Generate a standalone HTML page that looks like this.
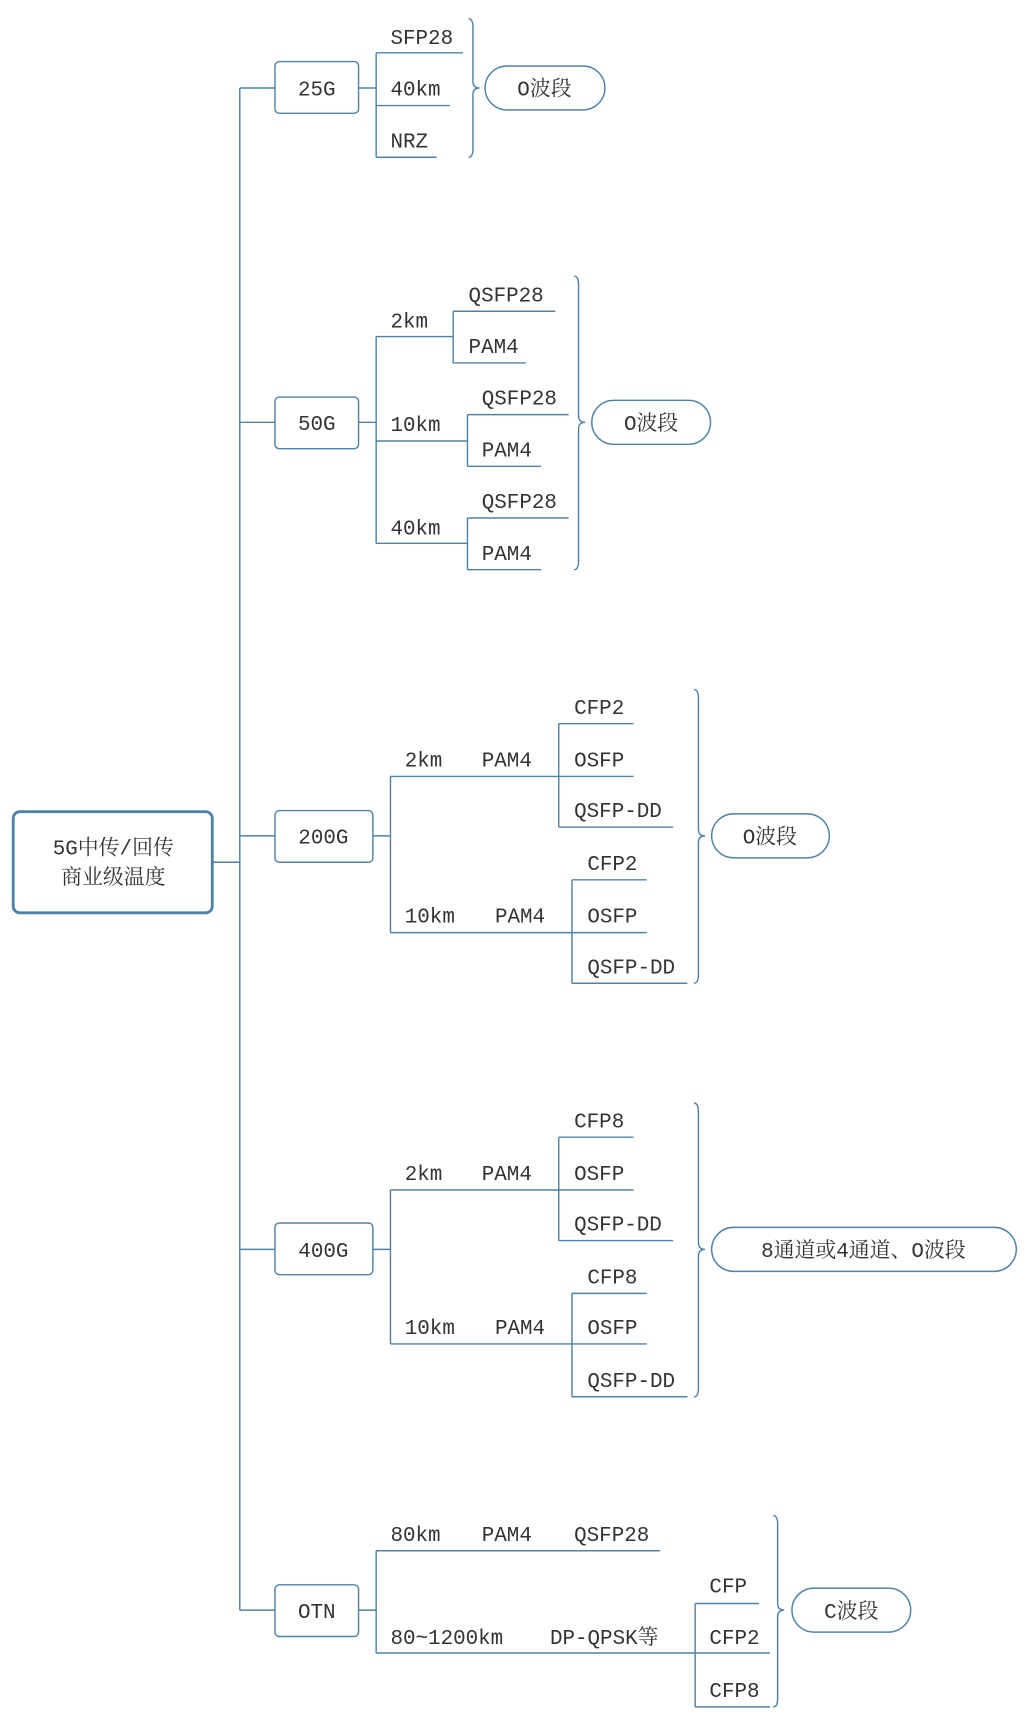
<!DOCTYPE html>
<html><head><meta charset="utf-8"><style>
html,body{margin:0;padding:0;background:#fff;}
svg{display:block;}
text{font-family:"Liberation Mono","Noto Serif CJK SC","Noto Sans CJK SC",monospace;font-size:19px;fill:#333;}
</style></head><body>
<svg width="1024" height="1719" viewBox="0 0 931 1563" preserveAspectRatio="none" xmlns="http://www.w3.org/2000/svg">
<g fill="none" stroke="#4f82a8" stroke-width="1.3">
<!-- trunk -->
<line x1="193" y1="784" x2="218" y2="784"/>
<line x1="218" y1="80" x2="218" y2="1464"/>
<line x1="218" y1="80" x2="250" y2="80"/>
<line x1="218" y1="384" x2="250" y2="384"/>
<line x1="218" y1="760" x2="250" y2="760"/>
<line x1="218" y1="1136" x2="250" y2="1136"/>
<line x1="218" y1="1464" x2="250" y2="1464"/>
<!-- boxes -->
<rect x="250" y="56" width="76" height="47" rx="4"/>
<rect x="250" y="361" width="76" height="47" rx="4"/>
<rect x="250" y="737" width="89" height="47" rx="4"/>
<rect x="250" y="1112" width="89" height="47" rx="4"/>
<rect x="250" y="1441" width="76" height="47" rx="4"/>
<!-- 25G -->
<line x1="326" y1="80" x2="342" y2="80"/>
<line x1="342" y1="48" x2="342" y2="143"/>
<line x1="342" y1="48" x2="421" y2="48"/>
<line x1="342" y1="96" x2="409" y2="96"/>
<line x1="342" y1="143" x2="397" y2="143"/>
<!-- 50G -->
<line x1="326" y1="384" x2="342" y2="384"/>
<line x1="342" y1="306" x2="342" y2="494"/>
<line x1="342" y1="306" x2="412" y2="306"/>
<line x1="342" y1="401" x2="425" y2="401"/>
<line x1="342" y1="494" x2="425" y2="494"/>
<line x1="412" y1="283" x2="412" y2="330"/>
<line x1="412" y1="283" x2="505" y2="283"/>
<line x1="412" y1="330" x2="478" y2="330"/>
<line x1="425" y1="377" x2="425" y2="424"/>
<line x1="425" y1="377" x2="517" y2="377"/>
<line x1="425" y1="424" x2="492" y2="424"/>
<line x1="425" y1="471" x2="425" y2="518"/>
<line x1="425" y1="471" x2="517" y2="471"/>
<line x1="425" y1="518" x2="492" y2="518"/>
<!-- 200G -->
<line x1="339" y1="760" x2="355" y2="760"/>
<line x1="355" y1="706" x2="355" y2="848"/>
<line x1="355" y1="706" x2="576" y2="706"/>
<line x1="355" y1="848" x2="588" y2="848"/>
<line x1="508" y1="658" x2="508" y2="752"/>
<line x1="508" y1="658" x2="576" y2="658"/>
<line x1="508" y1="752" x2="612" y2="752"/>
<line x1="520" y1="800" x2="520" y2="894"/>
<line x1="520" y1="800" x2="588" y2="800"/>
<line x1="520" y1="894" x2="625" y2="894"/>
<!-- 400G -->
<line x1="339" y1="1136" x2="355" y2="1136"/>
<line x1="355" y1="1082" x2="355" y2="1222"/>
<line x1="355" y1="1082" x2="576" y2="1082"/>
<line x1="355" y1="1222" x2="588" y2="1222"/>
<line x1="508" y1="1034" x2="508" y2="1128"/>
<line x1="508" y1="1034" x2="576" y2="1034"/>
<line x1="508" y1="1128" x2="612" y2="1128"/>
<line x1="520" y1="1176" x2="520" y2="1270"/>
<line x1="520" y1="1176" x2="588" y2="1176"/>
<line x1="520" y1="1270" x2="625" y2="1270"/>
<!-- OTN -->
<line x1="326" y1="1464" x2="342" y2="1464"/>
<line x1="342" y1="1410" x2="342" y2="1503"/>
<line x1="342" y1="1410" x2="600" y2="1410"/>
<line x1="342" y1="1503" x2="700" y2="1503"/>
<line x1="632" y1="1458" x2="632" y2="1552"/>
<line x1="632" y1="1458" x2="690" y2="1458"/>
<line x1="632" y1="1552" x2="700" y2="1552"/>
<!-- braces -->
<path d="M426 17 Q430 17 430 25 L430 74 Q430 80 436 80 Q430 80 430 86 L430 135 Q430 143 426 143"/>
<path d="M522 251 Q526 251 526 259 L526 378 Q526 384 532 384 Q526 384 526 390 L526 510 Q526 518 522 518"/>
<path d="M631 627 Q635 627 635 635 L635 754 Q635 760 641 760 Q635 760 635 766 L635 886 Q635 894 631 894"/>
<path d="M631 1003 Q635 1003 635 1011 L635 1130 Q635 1136 641 1136 Q635 1136 635 1142 L635 1262 Q635 1270 631 1270"/>
<path d="M703 1378 Q707 1378 707 1386 L707 1458 Q707 1464 713 1464 Q707 1464 707 1470 L707 1544 Q707 1552 703 1552"/>
<!-- pills -->
<rect x="441" y="60" width="109" height="40" rx="20"/>
<rect x="538" y="364" width="108" height="40" rx="20"/>
<rect x="647" y="740" width="107" height="40" rx="20"/>
<rect x="647" y="1116" width="277" height="40" rx="20"/>
<rect x="720" y="1444" width="108" height="40" rx="20"/>
<!-- root -->
<rect x="12" y="738" width="181" height="92" rx="6" stroke-width="2.6"/>
</g>
<g>
<text x="103" y="777" text-anchor="middle">5G中传/回传</text>
<text x="103" y="804" text-anchor="middle">商业级温度</text>
<text x="288" y="87" text-anchor="middle">25G</text>
<text x="288" y="391" text-anchor="middle">50G</text>
<text x="294" y="767" text-anchor="middle">200G</text>
<text x="294" y="1143" text-anchor="middle">400G</text>
<text x="288" y="1471" text-anchor="middle">OTN</text>

<text x="355" y="40">SFP28</text>
<text x="355" y="87">40km</text>
<text x="355" y="134">NRZ</text>
<text x="495" y="87" text-anchor="middle">O波段</text>

<text x="355" y="298">2km</text>
<text x="426" y="274">QSFP28</text>
<text x="426" y="321">PAM4</text>
<text x="355" y="392">10km</text>
<text x="438" y="368">QSFP28</text>
<text x="438" y="415">PAM4</text>
<text x="355" y="486">40km</text>
<text x="438" y="462">QSFP28</text>
<text x="438" y="509">PAM4</text>
<text x="592" y="391" text-anchor="middle">O波段</text>

<text x="368" y="697">2km</text>
<text x="438" y="697">PAM4</text>
<text x="522" y="649">CFP2</text>
<text x="522" y="697">OSFP</text>
<text x="522" y="743">QSFP-DD</text>
<text x="368" y="839">10km</text>
<text x="450" y="839">PAM4</text>
<text x="534" y="791">CFP2</text>
<text x="534" y="839">OSFP</text>
<text x="534" y="885">QSFP-DD</text>
<text x="700" y="767" text-anchor="middle">O波段</text>

<text x="368" y="1073">2km</text>
<text x="438" y="1073">PAM4</text>
<text x="522" y="1025">CFP8</text>
<text x="522" y="1073">OSFP</text>
<text x="522" y="1119">QSFP-DD</text>
<text x="368" y="1213">10km</text>
<text x="450" y="1213">PAM4</text>
<text x="534" y="1167">CFP8</text>
<text x="534" y="1213">OSFP</text>
<text x="534" y="1261">QSFP-DD</text>
<text x="785" y="1143" text-anchor="middle">8通道或4通道、O波段</text>

<text x="355" y="1401">80km</text>
<text x="438" y="1401">PAM4</text>
<text x="522" y="1401">QSFP28</text>
<text x="355" y="1495">80~1200km</text>
<text x="500" y="1495">DP-QPSK等</text>
<text x="645" y="1448">CFP</text>
<text x="645" y="1495">CFP2</text>
<text x="645" y="1543">CFP8</text>
<text x="774" y="1471" text-anchor="middle">C波段</text>
</g>
</svg>
</body></html>
